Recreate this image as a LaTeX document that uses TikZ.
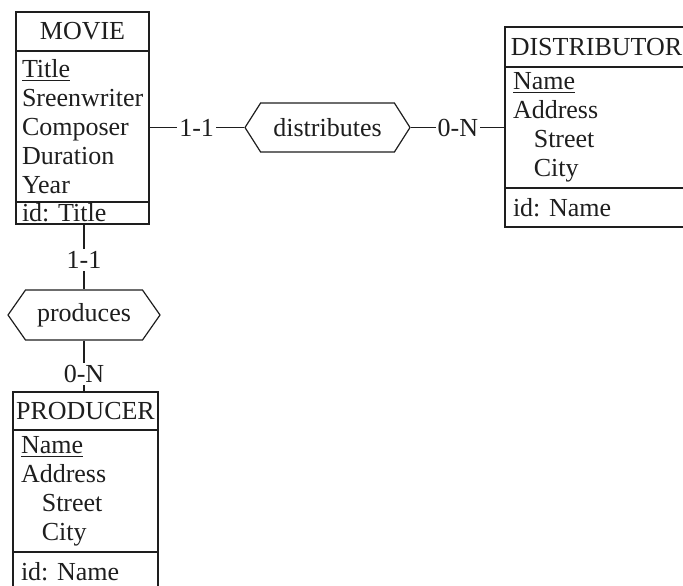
\documentclass[tikz,border=0pt]{standalone}
\usepackage{fontspec}
\setmainfont{Liberation Serif}
\usetikzlibrary{positioning, shapes.symbols}
\definecolor{ink}{RGB}{30,30,30}
\tikzset{
    enthead/.style={
        rectangle,
        draw=ink,
        line width=0.6pt,
        text=ink,
        inner xsep=1pt,
        inner ysep=0pt,
        outer sep=0pt,
        align=center
    },
    entbody/.style={
        rectangle,
        draw=ink,
        line width=0.6pt,
        text=ink,
        inner xsep=4pt,
        inner ysep=0pt,
        outer sep=0pt,
        align=left
    },
    entid/.style={entbody},
    reltype/.style={
        signal,
        signal to=west and east,
        signal pointer angle=110,
        draw=ink,
        line width=0.6pt,
        fill=white,
        text=ink,
        inner sep=1pt
    },
    link/.style={
        -,
        draw=ink,
        line width=0.6pt
    },
    card/.style={
        fill=white,
        text=ink,
        inner sep=1pt
    }
}

\begin{document}
\begin{tikzpicture}[
    x=0.5pt, y=-0.5pt,
    every node/.style={font=\fontsize{13}{14.5}\selectfont\frenchspacing}
]
    \useasboundingbox (0,0) rectangle (683,585);

    % Entity types
    \node[enthead, minimum width=66.5pt, minimum height=19.5pt] (movie) at (82.5,31.5) {MOVIE};
    \node[entbody, inner xsep=3pt, below=0pt of movie, text width=60.5pt, minimum height=75.5pt] (moviebody)
        {\underline{Title}\\Sreenwriter\\Composer\\Duration\\Year};
    \node[entid, inner xsep=3pt, below=0pt of moviebody, text width=60.5pt, minimum height=11pt] (movieid) {id: Title};

    \node[enthead, minimum width=91.5pt, minimum height=20pt] (distributor) at (596.5,47) {DISTRIBUTOR};
    \node[entbody, below=0pt of distributor, text width=83.5pt, minimum height=60.5pt] (distbody)
        {\underline{Name}\\Address\\\hspace*{0.8em}Street\\\hspace*{0.8em}City};
    \node[entid, below=0pt of distbody, text width=83.5pt, minimum height=19.5pt] (distid) {id: Name};

    \node[enthead, minimum width=72.5pt, minimum height=19pt] (producer) at (85.5,411) {PRODUCER};
    \node[entbody, below=0pt of producer, text width=64.5pt, minimum height=61pt] (prodbody)
        {\underline{Name}\\Address\\\hspace*{0.8em}Street\\\hspace*{0.8em}City};
    \node[entid, below=0pt of prodbody, text width=64.5pt, minimum height=19.5pt] (prodid) {id: Name};

    % Relationship types
    \node[reltype, minimum width=82.5pt, minimum height=24.5pt, signal pointer angle=115] (distributes) at (327.5,127.5) {distributes};
    \node[reltype, minimum width=76pt, minimum height=25pt] (produces) at (84,315) {produces};

    % Roles
    \draw[link] (distributes -| moviebody.east) -- node[card] {1-1} (distributes.west);
    \draw[link] (distributes.east) -- node[card] {0-N} (distributes -| distbody.west);
    \draw[link] (movieid.south -| produces) -- node[card, pos=0.55] {1-1} (produces.north);
    \draw[link] (produces.south) -- node[card, pos=0.65] {0-N} (producer.north -| produces);

\end{tikzpicture}
\end{document}
